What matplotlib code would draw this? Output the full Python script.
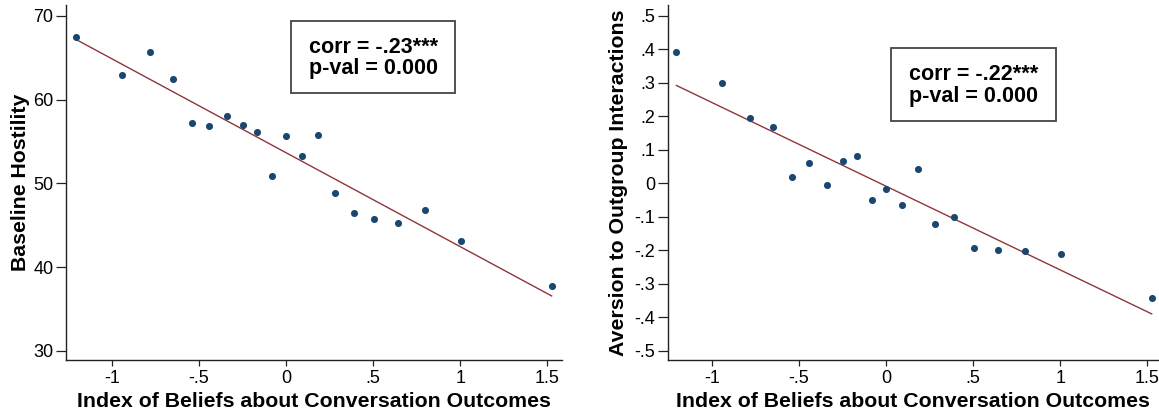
import matplotlib.pyplot as plt
from matplotlib.patches import Rectangle
import numpy as np

plt.rcParams['font.family'] = ['Liberation Sans', 'DejaVu Sans']

# binned means of the belief index (shared by both panels)
belief_bins = [-1.203, -0.939, -0.778, -0.647, -0.539, -0.442, -0.341, -0.249, -0.165, -0.081,
               0.002, 0.092, 0.184, 0.284, 0.393, 0.505, 0.642, 0.797, 1.007, 1.525]

hostility = [67.5, 62.9, 65.7, 62.5, 57.2, 56.8, 58.0, 57.0, 56.1, 50.9,
             55.6, 53.3, 55.8, 48.8, 46.5, 45.7, 45.3, 46.8, 43.1, 37.7]

aversion = [0.391, 0.300, 0.194, 0.167, 0.018, 0.060, -0.005, 0.065, 0.080, -0.051,
            -0.018, -0.064, 0.043, -0.121, -0.101, -0.193, -0.201, -0.203, -0.210, -0.342]

# linear fit (intercept, slope)
hostility_fit = (53.66, -11.22)
aversion_fit = (-0.009, -0.250)

x_ticks = [-1, -0.5, 0, 0.5, 1, 1.5]
x_ticklabels = ["-1", "-.5", "0", ".5", "1", "1.5"]
hostility_ticks = [30, 40, 50, 60, 70]
aversion_ticks = [-0.5, -0.4, -0.3, -0.2, -0.1, 0, 0.1, 0.2, 0.3, 0.4, 0.5]
aversion_ticklabels = ["-.5", "-.4", "-.3", "-.2", "-.1", "0", ".1", ".2", ".3", ".4", ".5"]

stats_left = ["corr = -.23***", "p-val = 0.000"]
stats_right = ["corr = -.22***", "p-val = 0.000"]

dot_color = "#1a476f"
line_color = "#90353b"
axis_color = "#222222"

fig = plt.figure(figsize=(11.59, 4.15), dpi=100)
ax1 = fig.add_axes([0.0569, 0.1325, 0.4278, 0.8555])
ax2 = fig.add_axes([0.5761, 0.1325, 0.4230, 0.8555])


def draw_panel(ax, y, fit, ylabel, yticks, yticklabels, xlim, ylim, box, text_pos, label_x, lines):
    x = np.array(belief_bins)
    ax.scatter(x, y, s=26, color=dot_color, zorder=3, linewidths=0)
    xs = np.array([x.min(), x.max()])
    ax.plot(xs, fit[0] + fit[1] * xs, color=line_color, lw=1.0, zorder=2)

    ax.set_xlim(*xlim)
    ax.set_ylim(*ylim)
    ax.set_xticks(x_ticks)
    ax.set_xticklabels(x_ticklabels)
    ax.set_yticks(yticks)
    ax.set_yticklabels(yticklabels)
    ax.tick_params(axis='y', length=7, width=0.9, color=axis_color, labelsize=13, pad=2)
    ax.tick_params(axis='x', length=4, width=0.9, color=axis_color, labelsize=13, pad=3)
    for s in ["top", "right"]:
        ax.spines[s].set_visible(False)
    for s in ["left", "bottom"]:
        ax.spines[s].set_color(axis_color)
        ax.spines[s].set_linewidth(1.0)

    ax.set_xlabel("Index of Beliefs about Conversation Outcomes", fontsize=15.3, fontweight='bold')
    ax.xaxis.set_label_coords(0.5, -0.089)
    ax.set_ylabel(ylabel, fontsize=15.3, fontweight='bold')
    ax.yaxis.set_label_coords(label_x, 0.5)

    x0, y0, x1, y1 = box
    ax.add_patch(Rectangle((x0, y0), x1 - x0, y1 - y0, transform=ax.transAxes,
                           fill=False, edgecolor="#444444", lw=1.3, zorder=4))
    tx, ty1, ty2 = text_pos
    ax.text(tx, ty1, lines[0], transform=ax.transAxes, fontsize=15.5, fontweight='bold', va='center')
    ax.text(tx, ty2, lines[1], transform=ax.transAxes, fontsize=15.5, fontweight='bold', va='center')


draw_panel(ax1, hostility, hostility_fit, "Baseline Hostility", hostility_ticks,
           [str(t) for t in hostility_ticks], (-1.263, 1.583), (28.9, 71.3),
           (0.4533, 0.7513, 0.7853, 0.9558), (0.4908, 0.8797, 0.8197), -0.073, stats_left)
draw_panel(ax2, aversion, aversion_fit, "Aversion to Outgroup Interactions", aversion_ticks,
           aversion_ticklabels, (-1.253, 1.561), (-0.528, 0.532),
           (0.4554, 0.6741, 0.792, 0.8797), (0.4928, 0.8028, 0.7417), -0.081, stats_right)

plt.savefig("out.png", dpi=100)
